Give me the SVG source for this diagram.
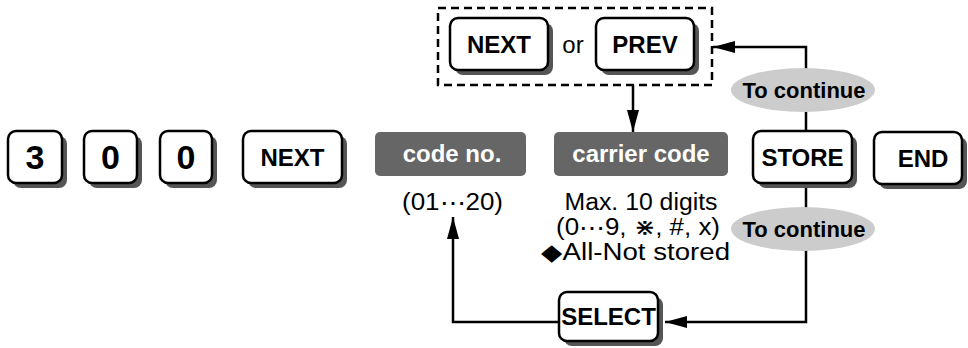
<svg xmlns="http://www.w3.org/2000/svg" width="968" height="348" viewBox="0 0 968 348">
<defs>
<style>
.sh{fill:#555}
.key{fill:#fff;stroke:#000;stroke-width:2.5}
.kt{font-family:"Liberation Sans",Arial,sans-serif;font-weight:bold;font-size:24px;text-anchor:middle;fill:#000}
.big{font-size:34px}
.ct{font-size:22px}
.lab{fill:#666}
.lt{font-family:"Liberation Sans",Arial,sans-serif;font-weight:bold;font-size:24px;text-anchor:middle;fill:#fff}
.tx{font-family:"Liberation Sans",Arial,sans-serif;font-size:23px;text-anchor:middle;fill:#000}
.ell{fill:#cccccc}
.ln{fill:none;stroke:#000;stroke-width:2.5}
.dash{fill:none;stroke:#000;stroke-width:2.5;stroke-dasharray:8 5}
</style>
<marker id="ah" markerWidth="22" markerHeight="12" refX="22" refY="6" orient="auto" markerUnits="userSpaceOnUse">
<path d="M0,0 L22,6 L0,12 Z" fill="#000"/>
</marker>
</defs>
<rect width="968" height="348" fill="#fff"/>

<g id="connectors">
<rect class="dash" x="438" y="8" width="274" height="77"/>
<path class="ln" d="M633,85 V132" marker-end="url(#ah)"/>
<path class="ln" d="M806,69 V47 H713" marker-end="url(#ah)"/>
<path class="ln" d="M806,112 V131"/>
<path class="ln" d="M806,183 V208"/>
<path class="ln" d="M806,250 V322 H665" marker-end="url(#ah)"/>
<path class="ln" d="M559,322 H453 V217" marker-end="url(#ah)"/>
</g>

<g id="key3"><rect class="sh" x="13" y="136" width="54" height="52" rx="8"/><rect class="key" x="8" y="131" width="54" height="52" rx="8"/><text class="kt big" x="35" y="169">3</text></g>
<g id="key0a"><rect class="sh" x="89" y="136" width="53" height="52" rx="8"/><rect class="key" x="84" y="131" width="53" height="52" rx="8"/><text class="kt big" x="110.5" y="169">0</text></g>
<g id="key0b"><rect class="sh" x="165" y="136" width="52" height="52" rx="8"/><rect class="key" x="160" y="131" width="52" height="52" rx="8"/><text class="kt big" x="186" y="169">0</text></g>
<g id="keyNext"><rect class="sh" x="248" y="136" width="99" height="52" rx="8"/><rect class="key" x="243" y="131" width="99" height="52" rx="8"/><text class="kt" x="292.5" y="166">NEXT</text></g>

<g id="codeNo"><rect class="lab" x="375" y="132" width="151" height="44" rx="5"/><text class="lt" x="452" y="162">code no.</text>
<text class="tx" x="452.5" y="210" textLength="101" lengthAdjust="spacingAndGlyphs">(01⋯20)</text></g>

<g id="carrierCode"><rect class="lab" x="554" y="132" width="174" height="44" rx="5"/><text class="lt" x="641" y="162">carrier code</text>
<text class="tx" x="641" y="210" textLength="153" lengthAdjust="spacingAndGlyphs">Max. 10 digits</text>
<text class="tx" x="638" y="235" textLength="164" lengthAdjust="spacingAndGlyphs">(0⋯9, ⋇, #, x)</text>
<text class="tx" x="635.5" y="260" textLength="189" lengthAdjust="spacingAndGlyphs">◆All-Not stored</text></g>

<g id="nextPrev">
<rect class="sh" x="455" y="23" width="98" height="52" rx="8"/><rect class="key" x="450" y="18" width="98" height="52" rx="8"/><text class="kt" x="499" y="53">NEXT</text>
<text class="tx" x="573" y="53" style="font-size:24px">or</text>
<rect class="sh" x="601" y="23" width="98" height="52" rx="8"/><rect class="key" x="596" y="18" width="98" height="52" rx="8"/><text class="kt" x="645" y="53">PREV</text>
</g>

<g id="contTop"><ellipse class="ell" cx="803" cy="90" rx="72" ry="22"/><text class="kt ct" x="804" y="98">To continue</text></g>
<g id="keyStore"><rect class="sh" x="758" y="136" width="99" height="52" rx="8"/><rect class="key" x="753" y="131" width="99" height="52" rx="8"/><text class="kt" x="802.5" y="166">STORE</text></g>
<g id="keyEnd"><rect class="sh" x="879" y="137" width="88" height="52" rx="8"/><rect class="key" x="874" y="132" width="88" height="52" rx="8"/><text class="kt" x="923" y="167">END</text></g>
<g id="contBottom"><ellipse class="ell" cx="803" cy="229" rx="72" ry="22"/><text class="kt ct" x="804" y="237">To continue</text></g>
<g id="keySelect"><rect class="sh" x="564" y="297" width="99" height="49" rx="8"/><rect class="key" x="559" y="292" width="99" height="49" rx="8"/><text class="kt" x="608.5" y="325">SELECT</text></g>
</svg>
